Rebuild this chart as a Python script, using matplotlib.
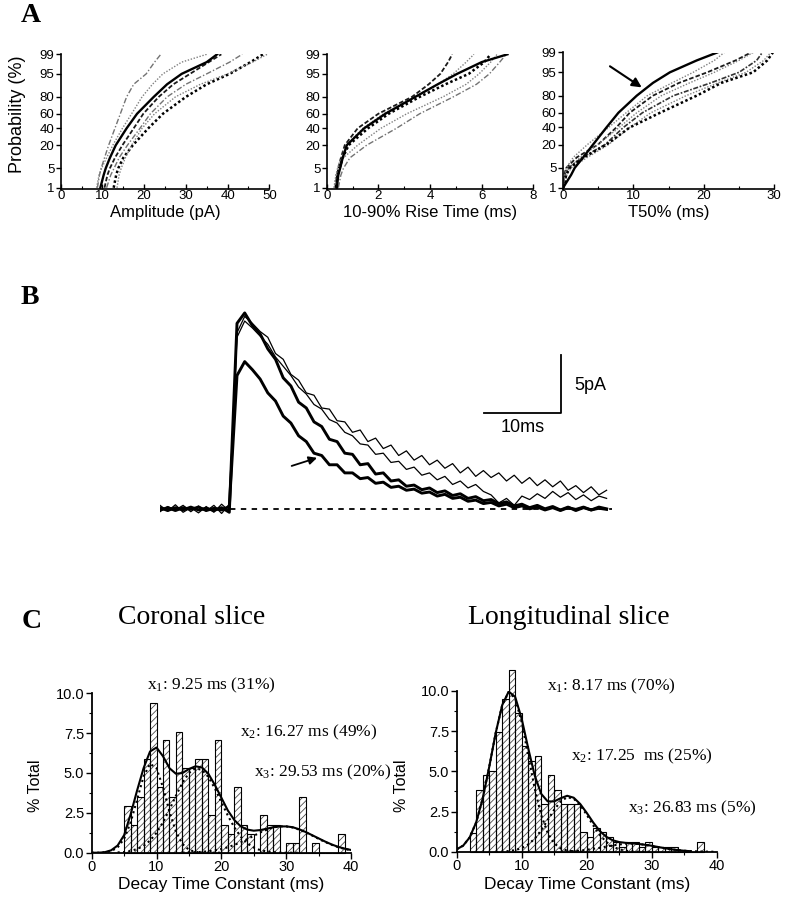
import math
import numpy as np
import matplotlib
matplotlib.use("Agg")
import matplotlib.pyplot as plt
from matplotlib.ticker import (FixedLocator, FixedFormatter, MultipleLocator,
                               NullLocator, FormatStrFormatter)

plt.rcParams['font.family'] = ['Liberation Sans', 'DejaVu Sans']
plt.rcParams['mathtext.fontset'] = 'custom'
plt.rcParams['mathtext.rm'] = 'Liberation Serif'
plt.rcParams['mathtext.it'] = 'Liberation Serif:italic'
plt.rcParams['hatch.linewidth'] = 0.6

# ======================= DATA =======================
# Panel A: cumulative probability curves (x value reached at each probability level, %)
prob_levels = [1, 3, 5, 10, 20, 40, 60, 80, 90, 95, 98, 99]
prob_ticks = [1, 5, 20, 40, 60, 80, 95, 99]

amp_curves = [
    [9.5, 10.3, 10.8, 11.8, 13.2, 15.8, 18.3, 22.3, 25.5, 29.0, 35.0, 37.5],
    [8.8, 9.3, 9.7, 10.5, 11.5, 13.0, 14.3, 15.8, 17.5, 20.5, 22.5, 24.0],
    [8.6, 9.2, 9.8, 11.0, 12.5, 14.8, 17.0, 19.5, 22.0, 24.5, 29.0, 35.0],
    [10.5, 11.2, 11.8, 13.0, 14.8, 17.5, 19.8, 23.5, 27.0, 31.0, 35.5, 38.5],
    [11.0, 12.0, 12.8, 14.0, 16.0, 19.0, 21.5, 25.5, 30.0, 35.0, 40.5, 43.5],
    [12.7, 13.3, 13.8, 15.0, 17.3, 21.0, 24.5, 30.0, 35.0, 40.5, 45.5, 48.5],
    [13.5, 14.0, 14.5, 15.5, 17.0, 19.5, 22.5, 27.5, 33.5, 40.0, 46.0, 49.5],
]
rise_curves = [
    [0.39, 0.45, 0.52, 0.62, 0.78, 1.45, 2.27, 3.43, 4.3, 5.05, 6.0, 7.0],
    [0.33, 0.40, 0.45, 0.55, 0.70, 1.20, 2.00, 3.30, 3.95, 4.40, 4.70, 4.86],
    [0.30, 0.36, 0.42, 0.55, 0.75, 1.40, 2.20, 3.40, 4.30, 4.90, 5.40, 5.70],
    [0.36, 0.42, 0.50, 0.62, 0.85, 1.60, 2.40, 3.60, 4.60, 5.50, 6.10, 6.35],
    [0.28, 0.36, 0.45, 0.65, 1.20, 2.10, 3.10, 4.50, 5.40, 5.90, 6.35, 6.60],
    [0.45, 0.55, 0.65, 0.90, 1.55, 2.70, 3.60, 4.90, 5.80, 6.30, 6.70, 6.95],
]
t50_curves = [
    [0.05, 1.2, 1.7, 2.9, 4.3, 6.2, 7.9, 10.5, 12.8, 15.2, 19.0, 21.9],
    [0.0, 0.2, 0.5, 2.0, 5.0, 7.6, 9.5, 12.8, 16.5, 20.5, 24.5, 26.7],
    [0.1, 0.4, 0.9, 2.5, 5.0, 8.0, 10.5, 14.0, 18.0, 21.5, 25.0, 27.0],
    [0.0, 0.3, 0.8, 2.8, 6.0, 8.6, 11.3, 15.7, 21.0, 25.0, 27.5, 28.3],
    [0.2, 0.6, 1.2, 3.5, 6.5, 9.5, 12.5, 17.5, 22.0, 26.0, 28.5, 29.5],
    [0.1, 0.5, 1.0, 3.0, 6.2, 9.5, 13.8, 19.0, 22.5, 27.0, 29.0, 29.8],
    [0.1, 0.3, 0.5, 1.5, 3.5, 6.5, 9.0, 12.0, 15.5, 18.5, 21.5, 22.9],
]

# Panel B: averaged mEPSC traces (pA), sampled every 1 ms
trace_time = list(range(59))
trace_thin1 = [0.3, -0.2, 0.35, -0.3, 0.1, -0.35, 0.2, -0.3, 0.4, -0.2,
               15.2, 16.6, 16.0, 15.3, 14.8, 13.4, 12.9, 11.6, 11.1, 10.0,
               9.8, 8.7, 8.6, 7.6, 7.5, 6.6, 6.8, 5.8, 6.1, 5.2,
               5.5, 4.6, 5.0, 4.2, 4.6, 3.8, 4.2, 3.5, 3.9, 3.1,
               3.6, 2.8, 3.3, 2.7, 3.1, 2.4, 2.9, 2.2, 2.7, 2.0,
               2.5, 1.9, 2.4, 1.6, 2.0, 1.4, 1.9, 1.2, 1.6]
trace_thin2 = [-0.25, 0.2, -0.1, 0.3, -0.25, 0.25, -0.2, 0.3, -0.4, 0.4,
               14.8, 16.2, 15.6, 14.9, 14.2, 13.1, 12.3, 11.5, 10.5, 9.9,
               9.0, 8.6, 7.7, 7.4, 6.6, 6.3, 5.6, 5.5, 4.7, 4.8,
               4.0, 4.1, 3.4, 3.6, 2.9, 3.1, 2.5, 2.8, 2.1, 2.4,
               1.8, 2.1, 1.5, 1.2, 0.5, 0.9, 0.3, 1.1, 0.8, 1.3,
               0.9, 1.5, 1.0, 1.4, 0.8, 1.2, 0.7, 1.1, 0.9]
trace_thick1 = [0.1, -0.15, 0.1, -0.1, 0.15, -0.1, 0.05, -0.15, 0.1, -0.3,
                16.0, 16.9, 15.8, 15.1, 13.8, 12.9, 11.3, 10.6, 9.2, 8.7,
                7.5, 7.1, 6.0, 5.8, 4.8, 4.7, 3.8, 3.9, 3.0, 3.1,
                2.4, 2.5, 1.95, 2.05, 1.65, 1.8, 1.4, 1.55, 1.15, 1.3,
                0.9, 1.05, 0.7, 0.8, 0.45, 0.6, 0.25, 0.4, 0.1, 0.3,
                0.0, 0.2, -0.1, 0.15, -0.15, 0.1, -0.1, 0.15, 0.0]
trace_thick2 = [-0.1, 0.1, -0.15, 0.1, -0.05, 0.15, -0.15, 0.05, -0.1, 0.2,
                11.5, 12.7, 12.0, 11.2, 10.0, 9.3, 8.0, 7.4, 6.3, 5.8,
                4.8, 4.6, 3.8, 3.8, 3.1, 3.1, 2.6, 2.7, 2.2, 2.3,
                1.85, 1.95, 1.6, 1.7, 1.35, 1.45, 1.1, 1.25, 0.9, 1.0,
                0.65, 0.75, 0.45, 0.55, 0.25, 0.4, 0.1, 0.25, 0.0,
                0.15, -0.1, 0.1, -0.15, 0.1, -0.05, 0.15, -0.1, 0.05, -0.05]

# Panel C: decay-time histograms (% total, 1-ms bins, left edges)
coronal_bins = list(range(5, 39))
coronal_pct = [2.9, 1.75, 3.5, 5.9, 9.4, 4.1, 7.05, 3.5, 7.6, 5.3, 5.3, 5.9, 5.9,
               2.35, 7.05, 1.75, 1.2, 4.1, 1.75, 1.2, 0, 2.35, 1.75, 1.75, 0,
               0.6, 0.6, 3.5, 0, 0.6, 0, 0, 0, 1.2]
long_bins = list(range(2, 38))
long_pct = [1.15, 3.85, 4.75, 5.05, 7.45, 9.5, 11.3, 8.6, 6.55, 5.65, 5.95, 2.95,
            4.75, 3.85, 2.95, 2.95, 2.95, 1.2, 0.9, 1.5, 1.2, 0.9, 0.6, 0.3,
            0.6, 0.6, 0.3, 0.6, 0.3, 0.3, 0.3, 0.3, 0, 0, 0, 0.6]

# Gaussian fits (sum and components)
coronal_fit_x = list(range(0, 41))
coronal_fit = [0, 0, 0.03, 0.15, 0.45, 1.1, 2.4, 3.9, 5.3, 6.35, 6.6, 6.05, 5.3,
               4.95, 5.0, 5.25, 5.42, 5.35, 4.95, 4.25, 3.45, 2.65, 2.05, 1.65,
               1.45, 1.38, 1.42, 1.5, 1.6, 1.65, 1.65, 1.6, 1.47, 1.3, 1.1, 0.9,
               0.7, 0.52, 0.37, 0.26, 0.17]
coronal_g1_x = list(range(0, 21))
coronal_g1 = [0, 0, 0.03, 0.1, 0.33, 0.87, 1.89, 3.33, 4.78, 5.58, 5.30, 4.10,
              2.57, 1.31, 0.55, 0.18, 0.05, 0.01, 0, 0, 0]
coronal_g2_x = list(range(4, 33))
coronal_g2 = [0.02, 0.04, 0.11, 0.23, 0.43, 0.76, 1.25, 1.91, 2.71, 3.58, 4.39,
              5.0, 5.29, 5.2, 4.75, 4.03, 3.18, 2.33, 1.59, 1.0, 0.59, 0.32,
              0.16, 0.08, 0.03, 0.01, 0, 0, 0]
coronal_g3_x = list(range(14, 41))
coronal_g3 = [0.01, 0.02, 0.03, 0.05, 0.09, 0.15, 0.23, 0.34, 0.49, 0.66, 0.85,
              1.06, 1.27, 1.44, 1.58, 1.65, 1.65, 1.58, 1.45, 1.28, 1.08, 0.87,
              0.67, 0.5, 0.35, 0.24, 0.15]

long_fit_x = list(range(0, 37))
long_fit = [0.15, 0.38, 0.89, 1.83, 3.31, 5.27, 7.39, 9.12, 9.97, 9.63, 8.27,
            6.44, 4.74, 3.6, 3.13, 3.13, 3.33, 3.48, 3.36, 2.97, 2.42, 1.82,
            1.29, 0.93, 0.71, 0.6, 0.55, 0.52, 0.48, 0.43, 0.37, 0.29, 0.22,
            0.15, 0.1, 0.06, 0.03]
long_g1_x = list(range(0, 21))
long_g1 = [0.15, 0.38, 0.89, 1.83, 3.31, 5.27, 7.39, 9.12, 9.93, 9.53, 8.05,
           5.99, 3.93, 2.27, 1.16, 0.52, 0.2, 0.07, 0.02, 0, 0]
long_g2_x = list(range(6, 31))
long_g2 = [0, 0.01, 0.04, 0.1, 0.22, 0.45, 0.81, 1.33, 1.97, 2.61, 3.13, 3.39,
           3.3, 2.9, 2.3, 1.64, 1.05, 0.61, 0.32, 0.15, 0.06, 0.02, 0, 0, 0]
long_g3_x = list(range(16, 41))
long_g3 = [0.01, 0.02, 0.04, 0.07, 0.12, 0.18, 0.24, 0.32, 0.39, 0.45, 0.49,
           0.5, 0.48, 0.43, 0.37, 0.29, 0.22, 0.15, 0.10, 0.06, 0.04, 0.02,
           0.01, 0, 0]

coronal_labels = [r"x$_1$: 9.25 ms (31%)", r"x$_2$: 16.27 ms (49%)",
                  r"x$_3$: 29.53 ms (20%)"]
long_labels = [r"x$_1$: 8.17 ms (70%)", r"x$_2$: 17.25  ms (25%)",
               r"x$_3$: 26.83 ms (5%)"]

# ======================= probit scale =======================
_a = [-3.969683028665376e+01, 2.209460984245205e+02, -2.759285104469687e+02,
      1.383577518672690e+02, -3.066479806614716e+01, 2.506628277459239e+00]
_b = [-5.447609879822406e+01, 1.615858368580409e+02, -1.556989798598866e+02,
      6.680131188771972e+01, -1.328068155288572e+01]
_c = [-7.784894002430293e-03, -3.223964580411365e-01, -2.400758277161838e+00,
      -2.549671010173968e+00, 4.374664141464968e+00, 2.938163982698783e+00]
_d = [7.784695709041462e-03, 3.224671290700398e-01, 2.445134137142996e+00,
      3.754408661907416e+00]


def _ppf(p):
    p = np.clip(np.asarray(p, dtype=float), 1e-10, 1 - 1e-10)
    plow = 0.02425
    q = np.sqrt(-2 * np.log(np.minimum(p, 1 - p)))
    tail = (((((_c[0] * q + _c[1]) * q + _c[2]) * q + _c[3]) * q + _c[4]) * q + _c[5]) / \
           ((((_d[0] * q + _d[1]) * q + _d[2]) * q + _d[3]) * q + 1)
    tail = np.where(p < 0.5, tail, -tail)
    qc = p - 0.5
    r = qc * qc
    cen = (((((_a[0] * r + _a[1]) * r + _a[2]) * r + _a[3]) * r + _a[4]) * r + _a[5]) * qc / \
          (((((_b[0] * r + _b[1]) * r + _b[2]) * r + _b[3]) * r + _b[4]) * r + 1)
    return np.where((p >= plow) & (p <= 1 - plow), cen, tail)


_erf = np.vectorize(math.erf, otypes=[float])


def prob_fwd(v):
    return _ppf(np.asarray(v, dtype=float) / 100.0)


def prob_inv(z):
    z = np.asarray(z, dtype=float)
    return 100.0 * 0.5 * (1 + _erf(z / math.sqrt(2)))


# ======================= FIGURE =======================
W, H = 785, 900
fig = plt.figure(figsize=(W / 100, H / 100), dpi=100)


def rect(x0, y0, x1, y1):
    return [x0 / W, 1 - y1 / H, (x1 - x0) / W, (y1 - y0) / H]


def fx(x):
    return x / W


def fy(y):
    return 1 - y / H


SOLID = dict(color='black', lw=1.7, ls='-')
BLK_DOT = dict(color='black', lw=1.8, ls=(0, (1, 1)))
BLK_DASH = dict(color='0.1', lw=1.3, ls=(0, (2.5, 1.2)))
BLK_DASHDOT = dict(color='0.2', lw=1.2, ls=(0, (3, 1, 1, 1)))
GRAY_DOT = dict(color='0.5', lw=1.0, ls=(0, (1, 1.2)))
GRAY_DASHDOT = dict(color='0.45', lw=1.0, ls=(0, (4, 1.5, 1, 1.5)))

amp_styles = [SOLID, GRAY_DASHDOT, GRAY_DOT, BLK_DASH, GRAY_DASHDOT, BLK_DOT, GRAY_DOT]
rise_styles = [SOLID, BLK_DASH, GRAY_DOT, BLK_DOT, GRAY_DOT, GRAY_DASHDOT]
t50_styles = [SOLID, BLK_DASH, GRAY_DOT, BLK_DASHDOT, GRAY_DOT, BLK_DOT, GRAY_DOT]

panelA = [
    (rect(60.7, 54.3, 269.3, 189), amp_curves, amp_styles, (0, 50), 10, 5,
     "Amplitude (pA)"),
    (rect(326.7, 54.3, 533.3, 189), rise_curves, rise_styles, (0, 8), 2, 1,
     "10-90% Rise Time (ms)"),
    (rect(562.7, 52.5, 774.3, 189), t50_curves, t50_styles, (0, 30), 10, 5,
     "T50% (ms)"),
]

axesA = []
for i, (r, curves, styles, xl, maj, mnr, xlabel) in enumerate(panelA):
    ax = fig.add_axes(r)
    ax.set_yscale('function', functions=(prob_fwd, prob_inv))
    ax.set_ylim(0.89, 99)
    ax.set_xlim(*xl)
    for vals, st in zip(curves, styles):
        ax.plot(vals, prob_levels, zorder=3 if st is SOLID else 2, **st)
    ax.yaxis.set_major_locator(FixedLocator(prob_ticks))
    ax.yaxis.set_major_formatter(FixedFormatter([str(t) for t in prob_ticks]))
    ax.yaxis.set_minor_locator(NullLocator())
    ax.xaxis.set_major_locator(MultipleLocator(maj))
    ax.xaxis.set_minor_locator(MultipleLocator(mnr))
    for s in ('top', 'right'):
        ax.spines[s].set_visible(False)
    for s in ('left', 'bottom'):
        ax.spines[s].set_linewidth(1.2)
    ax.tick_params(axis='y', direction='out', length=3.5, width=1.0,
                   labelsize=9.5, pad=1)
    ax.tick_params(axis='x', which='major', direction='in', length=3.5,
                   width=1.0, labelsize=9.5, pad=1)
    ax.tick_params(axis='x', which='minor', direction='in', length=2, width=0.8)
    fig.text(fx((r[0] + r[2] / 2) * W), fy(213), xlabel, ha='center',
             va='center', fontsize=12)
    axesA.append(ax)

fig.text(fx(18), fy(114), "Probability (%)", rotation=90, ha='center',
         va='center', fontsize=13)
axesA[2].annotate("", xy=(11.2, 87), xytext=(6.7, 96.8),
                  arrowprops=dict(arrowstyle='-|>', color='black', lw=1.5,
                                  mutation_scale=14, shrinkA=0, shrinkB=0))

# ---------------- Panel B ----------------
axB = fig.add_axes(rect(160, 277, 622, 532))
axB.set_xlim(0, 60)
axB.set_ylim(-2, 20)
axB.axis('off')
axB.plot(trace_time, trace_thin1, color='black', lw=0.9)
axB.plot(trace_time, trace_thin2, color='black', lw=0.9)
axB.plot(trace_time, trace_thick1, color='black', lw=2.1)
axB.plot(trace_time, trace_thick2, color='black', lw=2.1)
axB.plot([9.1, 58.7], [0, 0], color='black', lw=1.3, ls=(0, (3, 3)))
# scale bars (10 ms, 5 pA)
axB.plot([42.1, 52.1, 52.1], [8.3, 8.3, 13.3], color='black', lw=1.3)
axB.text(53.8, 10.6, "5pA", ha='left', va='center', fontsize=13)
axB.text(47.1, 7.0, "10ms", ha='center', va='center', fontsize=13)
axB.annotate("", xy=(20.4, 4.4), xytext=(17.1, 3.7),
             arrowprops=dict(arrowstyle='-|>', color='black', lw=1.3,
                             mutation_scale=12, shrinkA=0, shrinkB=0))

# ---------------- Panel C ----------------
panelC = [
    (rect(91.7, 693.3, 351, 852.7), coronal_bins, coronal_pct,
     (coronal_fit_x, coronal_fit),
     [(coronal_g1_x, coronal_g1), (coronal_g2_x, coronal_g2), (coronal_g3_x, coronal_g3)],
     coronal_labels, [(211, 685), (309, 732), (323, 772)], "Coronal slice", 192, 35),
    (rect(456.7, 691, 716.7, 851.7), long_bins, long_pct,
     (long_fit_x, long_fit),
     [(long_g1_x, long_g1), (long_g2_x, long_g2), (long_g3_x, long_g3)],
     long_labels, [(611, 686), (642, 756), (692, 808)], "Longitudinal slice", 569, 402),
]

for (r, bins, pct, fit, comps, labels, lpos, title, tx, ylx) in panelC:
    ax = fig.add_axes(r)
    ax.bar(bins, pct, width=1.0, align='edge', facecolor='white',
           edgecolor='0.3', linewidth=0, hatch='/////', clip_on=False, zorder=1)
    ax.bar(bins, pct, width=1.0, align='edge', fill=False,
           edgecolor='black', linewidth=0.8, clip_on=False, zorder=2)
    for cx, cy in comps:
        ax.plot(cx, cy, color='black', lw=1.5, ls=(0, (1, 1.6)), zorder=3)
    ax.plot(fit[0], fit[1], color='black', lw=1.5, zorder=4)
    ax.set_xlim(0, 40)
    ax.set_ylim(0, 10)
    ax.xaxis.set_major_locator(MultipleLocator(10))
    ax.xaxis.set_minor_locator(MultipleLocator(5))
    ax.yaxis.set_major_locator(MultipleLocator(2.5))
    ax.yaxis.set_minor_locator(MultipleLocator(1.25))
    ax.yaxis.set_major_formatter(FormatStrFormatter('%.1f'))
    for s in ('top', 'right'):
        ax.spines[s].set_visible(False)
    for s in ('left', 'bottom'):
        ax.spines[s].set_linewidth(1.3)
        ax.spines[s].set_zorder(5)
    ax.tick_params(which='major', direction='out', length=4, width=1.0,
                   labelsize=10.5, pad=1.5)
    ax.tick_params(which='minor', direction='out', length=2.2, width=0.8)
    fig.text(fx((r[0] + r[2] / 2) * W), fy(885), "Decay Time Constant (ms)",
             ha='center', va='center', fontsize=12.5)
    fig.text(fx(ylx), fy(786), "% Total", rotation=90, ha='center',
             va='center', fontsize=11.5)
    for lab, (px, py) in zip(labels, lpos):
        fig.text(fx(px), fy(py), lab, ha='center', va='center', fontsize=12.5,
                 family='Liberation Serif')
    fig.text(fx(tx), fy(618), title, ha='center', va='center', fontsize=20,
             family='Liberation Serif')

# panel letters
for letter, (px, py) in zip("ABC", [(31, 15), (30, 297), (32, 621)]):
    fig.text(fx(px), fy(py), letter, ha='center', va='center', fontsize=20,
             family='Liberation Serif', fontweight='bold')

fig.savefig("out.png", dpi=100)
